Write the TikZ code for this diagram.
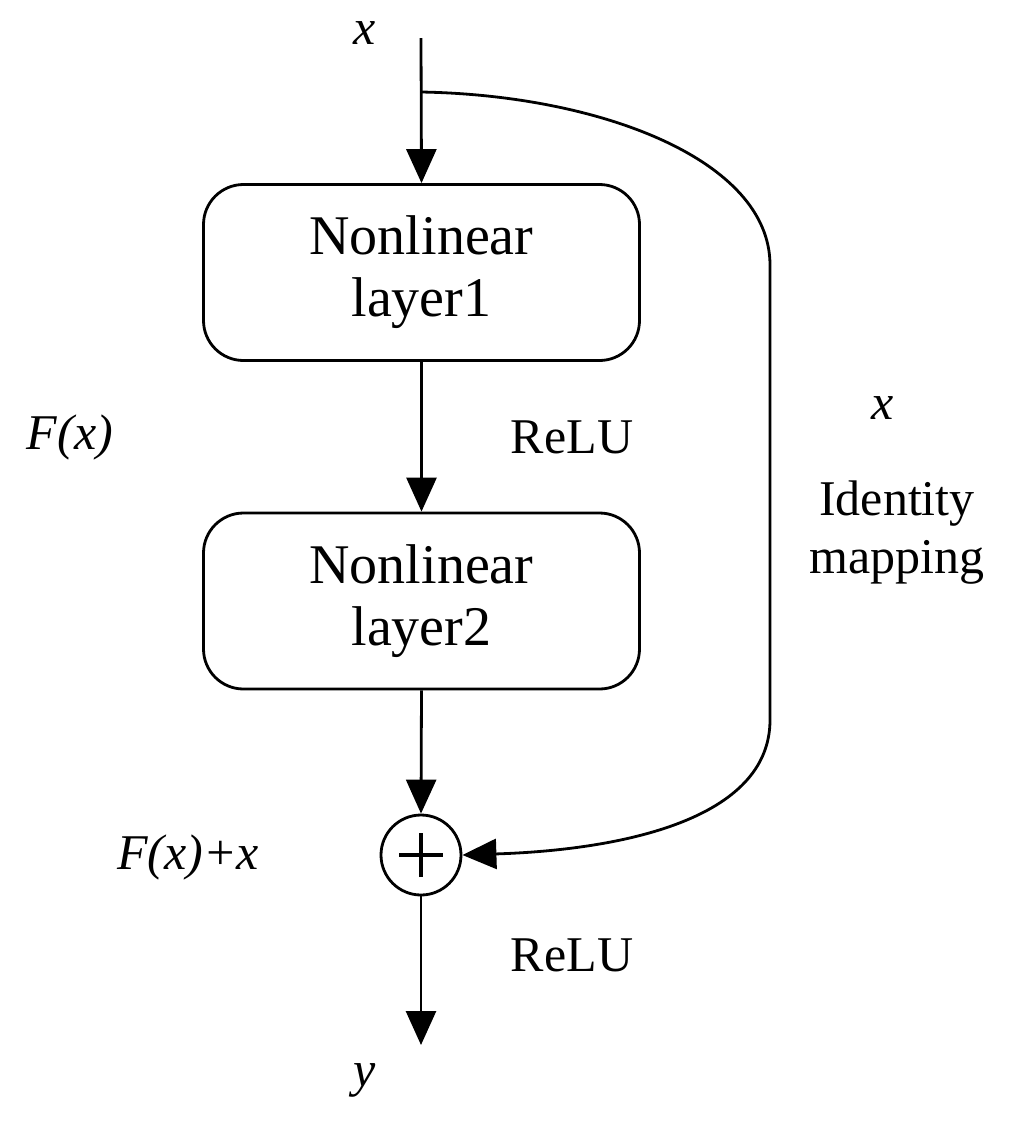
\documentclass[tikz,border=0pt]{standalone}
\usepackage{fontspec}
\setmainfont{Liberation Serif}
\usetikzlibrary{arrows.meta}
\begin{document}
\begin{tikzpicture}[x=0.5pt,y=-0.5pt,
  line width=1.4pt,
  arr/.style={-{Triangle[length=17pt,width=15pt]}},
  box/.style={draw,rounded corners=20pt,minimum width=218pt,minimum height=88pt,align=center,font=\fontsize{28}{31}\selectfont,inner sep=0pt},
  lab/.style={font=\fontsize{25}{29}\selectfont,align=center,inner sep=0pt}]
\useasboundingbox (0,0) rectangle (1025,1121);
\coordinate (top) at (421,38);
\coordinate (br) at (421,92);
\coordinate (bot) at (421,1045);
\node[box] (b1) at (421.5,272.5) {Nonlinear\\layer1};
\node[box] (b2) at (421.5,601) {Nonlinear\\layer2};
\node[draw,circle,minimum size=40pt,inner sep=0pt] (sum) at (421,855) {};
\draw[line width=2.2pt] (sum.center)++(-11pt,0)--++(22pt,0) (sum.center)++(0,-11pt)--++(0,22pt);
\draw[arr] (top) -- (b1.north);
\draw[arr] (b1.south) -- (b2.north);
\draw[arr] (b2.south) -- (sum.north);
\draw[arr] (sum.south) -- (bot);
\draw[arr] (br) .. controls (600,95) and (770,160) .. (770,265) -- (770,720) .. controls (770,820) and (620,850) .. (sum.east);
\node[lab] (lx) at (365,33) {\itshape x};
\node[lab] (ly) at (365,1080) {\itshape y};
\node[lab] (r1) at (572,437) {ReLU};
\node[lab] (r2) at (572,955) {ReLU};
\node[lab] (fx) at (70,437) {\itshape F(x)};
\node[lab] (fxx) at (188,857) {\itshape F(x)+x};
\node[lab] (ix) at (883,408) {\itshape x};
\node[lab] (id) at (897,533) {Identity\\mapping};
\end{tikzpicture}
\end{document}
